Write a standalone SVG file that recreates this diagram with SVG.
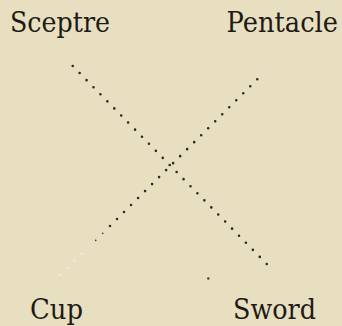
<svg xmlns="http://www.w3.org/2000/svg" width="342" height="326" viewBox="0 0 342 326">
  <style>
    .lbl { font-family: "DejaVu Serif", serif; font-size: 28px; fill: #1e1a15; }
    .dot { fill: none; stroke: #2e2922; stroke-width: 2.6; stroke-linecap: round; stroke-dasharray: 0 9.9; }
    .dotsm { fill: none; stroke: #4a433a; stroke-width: 1.8; stroke-linecap: round; stroke-dasharray: 0 9.9; }
    .faint { fill: none; stroke: #f6f1df; stroke-width: 1.8; stroke-linecap: round; stroke-dasharray: 0 9.9; }
  </style>
  <rect width="342" height="326" fill="#e8dfc1"/>
  <g id="connectors">
    <line class="dot" x1="72.7" y1="66" x2="268.7" y2="266"/>
    <line class="dot" x1="257.3" y1="79.3" x2="109.7" y2="226.3"/>
    <line class="dotsm" x1="102.7" y1="233.3" x2="88.7" y2="247.3"/>
    <line class="faint" x1="81.7" y1="254" x2="60" y2="275"/>
    <circle cx="208.3" cy="278.5" r="1.2" fill="#4a433a"/>
  </g>
  <g id="sceptre"><text class="lbl" x="10" y="32" textLength="100" lengthAdjust="spacingAndGlyphs">Sceptre</text></g>
  <g id="pentacle"><text class="lbl" transform="translate(226.5,32) scale(0.9,1)" x="0" y="0" textLength="124" lengthAdjust="spacingAndGlyphs">Pentacle</text></g>
  <g id="cup"><text class="lbl" x="30" y="319" textLength="53" lengthAdjust="spacingAndGlyphs">Cup</text></g>
  <g id="sword"><text class="lbl" x="233" y="319" textLength="83" lengthAdjust="spacingAndGlyphs">Sword</text></g>
</svg>
